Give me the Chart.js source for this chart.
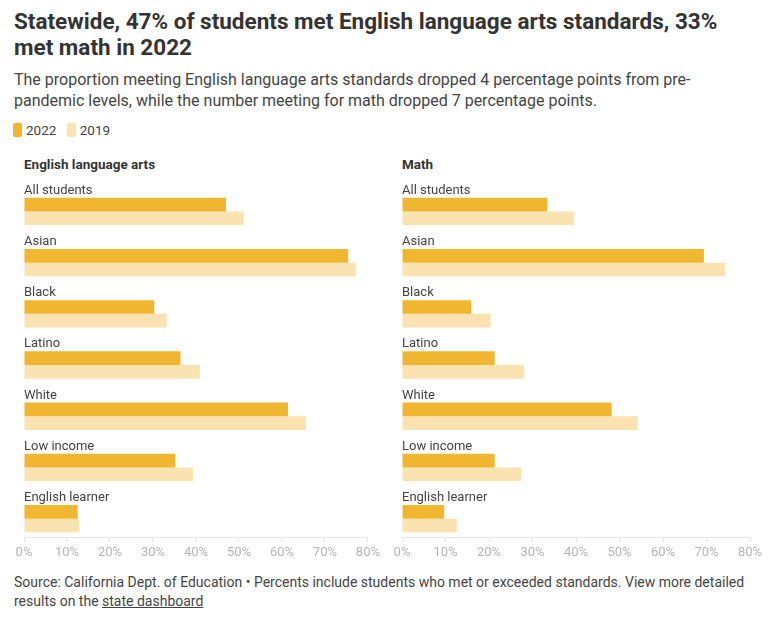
<!DOCTYPE html>
<html>
<head>
<meta charset="utf-8">
<script src="https://cdn.jsdelivr.net/npm/chart.js@4"></script>
<style>
  body { margin: 0; background: #fff; font-family: Roboto, sans-serif; color: #333; }
  #page { position: relative; width: 768px; height: 622px; overflow: hidden; }
  h1 { position: absolute; left: 14px; top: 8px; width: 745px; margin: 0; font-size: 22.5px; line-height: 26px; font-weight: 700; color: #333; }
  .sub { position: absolute; left: 14px; top: 69px; width: 745px; margin: 0; font-size: 16px; line-height: 21px; color: #444; }
  .legend { position: absolute; left: 13px; top: 122px; font-size: 13.5px; color: #444; }
  .legend span.sw { display: inline-block; width: 9px; height: 14px; border-radius: 2px; vertical-align: -2px; margin-right: 4px; }
  .legend span.item { margin-right: 7px; }
  .ptitle { position: absolute; top: 156px; font-size: 13.5px; font-weight: 700; color: #333; }
  .box { position: absolute; top: 172px; height: 392px; }
  .foot { position: absolute; left: 14px; top: 573px; width: 745px; font-size: 14px; line-height: 19px; color: #444; }
  .foot u { text-decoration: underline; }
</style>
</head>
<body>
<div id="page">
  <h1>Statewide, 47% of students met English language arts standards, 33% met math in 2022</h1>
  <p class="sub">The proportion meeting English language arts standards dropped 4 percentage points from pre-pandemic levels, while the number meeting for math dropped 7 percentage points.</p>
  <div class="legend">
    <span class="item"><span class="sw" style="background:#f0b630"></span>2022</span>
    <span class="item"><span class="sw" style="background:#fae3b1"></span>2019</span>
  </div>
  <div class="ptitle" style="left:24px">English language arts</div>
  <div class="ptitle" style="left:402px">Math</div>
  <div class="box" style="left:10px; width:373px"><canvas id="elaChart"></canvas></div>
  <div class="box" style="left:388px; width:380px"><canvas id="mathChart"></canvas></div>
  <div class="foot">Source: California Dept. of Education • Percents include students who met or exceeded standards. View more detailed results on the <u>state dashboard</u></div>
</div>
<script>
const groups = ["All students", "Asian", "Black", "Latino", "White", "Low income", "English learner"];
const ela2022 = [47, 75.4, 30.3, 36.4, 61.4, 35.2, 12.5];
const ela2019 = [51.1, 77.2, 33.2, 40.9, 65.6, 39.3, 12.9];
const math2022 = [33.4, 69.4, 15.9, 21.3, 48.2, 21.3, 9.7];
const math2019 = [39.6, 74.3, 20.4, 28.1, 54.2, 27.5, 12.6];
const xTicks = [0, 10, 20, 30, 40, 50, 60, 70, 80];

const color2022 = "#f0b630";
const color2019 = "#fae3b1";

// draws the group name above each pair of bars
const groupLabels = {
  id: "groupLabels",
  afterDatasetsDraw(chart) {
    const ctx = chart.ctx;
    const yScale = chart.scales.y;
    ctx.save();
    ctx.font = "13px Roboto, sans-serif";
    ctx.fillStyle = "#444";
    ctx.textBaseline = "middle";
    ctx.textAlign = "left";
    chart.data.labels.forEach((label, i) => {
      const y = yScale.getPixelForValue(i);
      ctx.fillText(label, chart.chartArea.left, y - 14);
    });
    ctx.restore();
  }
};

function makeChart(id, data2022, data2019, padRight) {
  const ctx = document.getElementById(id).getContext("2d");
  return new Chart(ctx, {
    type: "bar",
    data: {
      labels: groups,
      datasets: [
        // empty slot that leaves room for the group label
        { label: "", data: groups.map(() => null), backgroundColor: "rgba(0,0,0,0)" },
        { label: "2022", data: data2022, backgroundColor: color2022 },
        { label: "2019", data: data2019, backgroundColor: color2019 }
      ]
    },
    options: {
      indexAxis: "y",
      responsive: true,
      maintainAspectRatio: false,
      animation: false,
      datasets: { bar: { barPercentage: 1, categoryPercentage: 0.8 } },
      layout: { padding: { left: 14, right: padRight, top: 7, bottom: 0 } },
      plugins: { legend: { display: false }, tooltip: { enabled: false } },
      scales: {
        x: {
          min: 0,
          max: 80,
          afterBuildTicks: (axis) => { axis.ticks = xTicks.map(v => ({ value: v })); },
          grid: { drawOnChartArea: false, color: "#e8e8e8", tickLength: 5 },
          border: { color: "#e8e8e8" },
          ticks: {
            color: "#b5b5b5",
            padding: 3,
            font: { family: "Roboto, sans-serif", size: 13 },
            callback: v => v + "%"
          }
        },
        y: { display: false }
      }
    },
    plugins: [groupLabels]
  });
}

makeChart("elaChart", ela2022, ela2019, 0);
makeChart("mathChart", math2022, math2019, 18);
</script>
</body>
</html>
